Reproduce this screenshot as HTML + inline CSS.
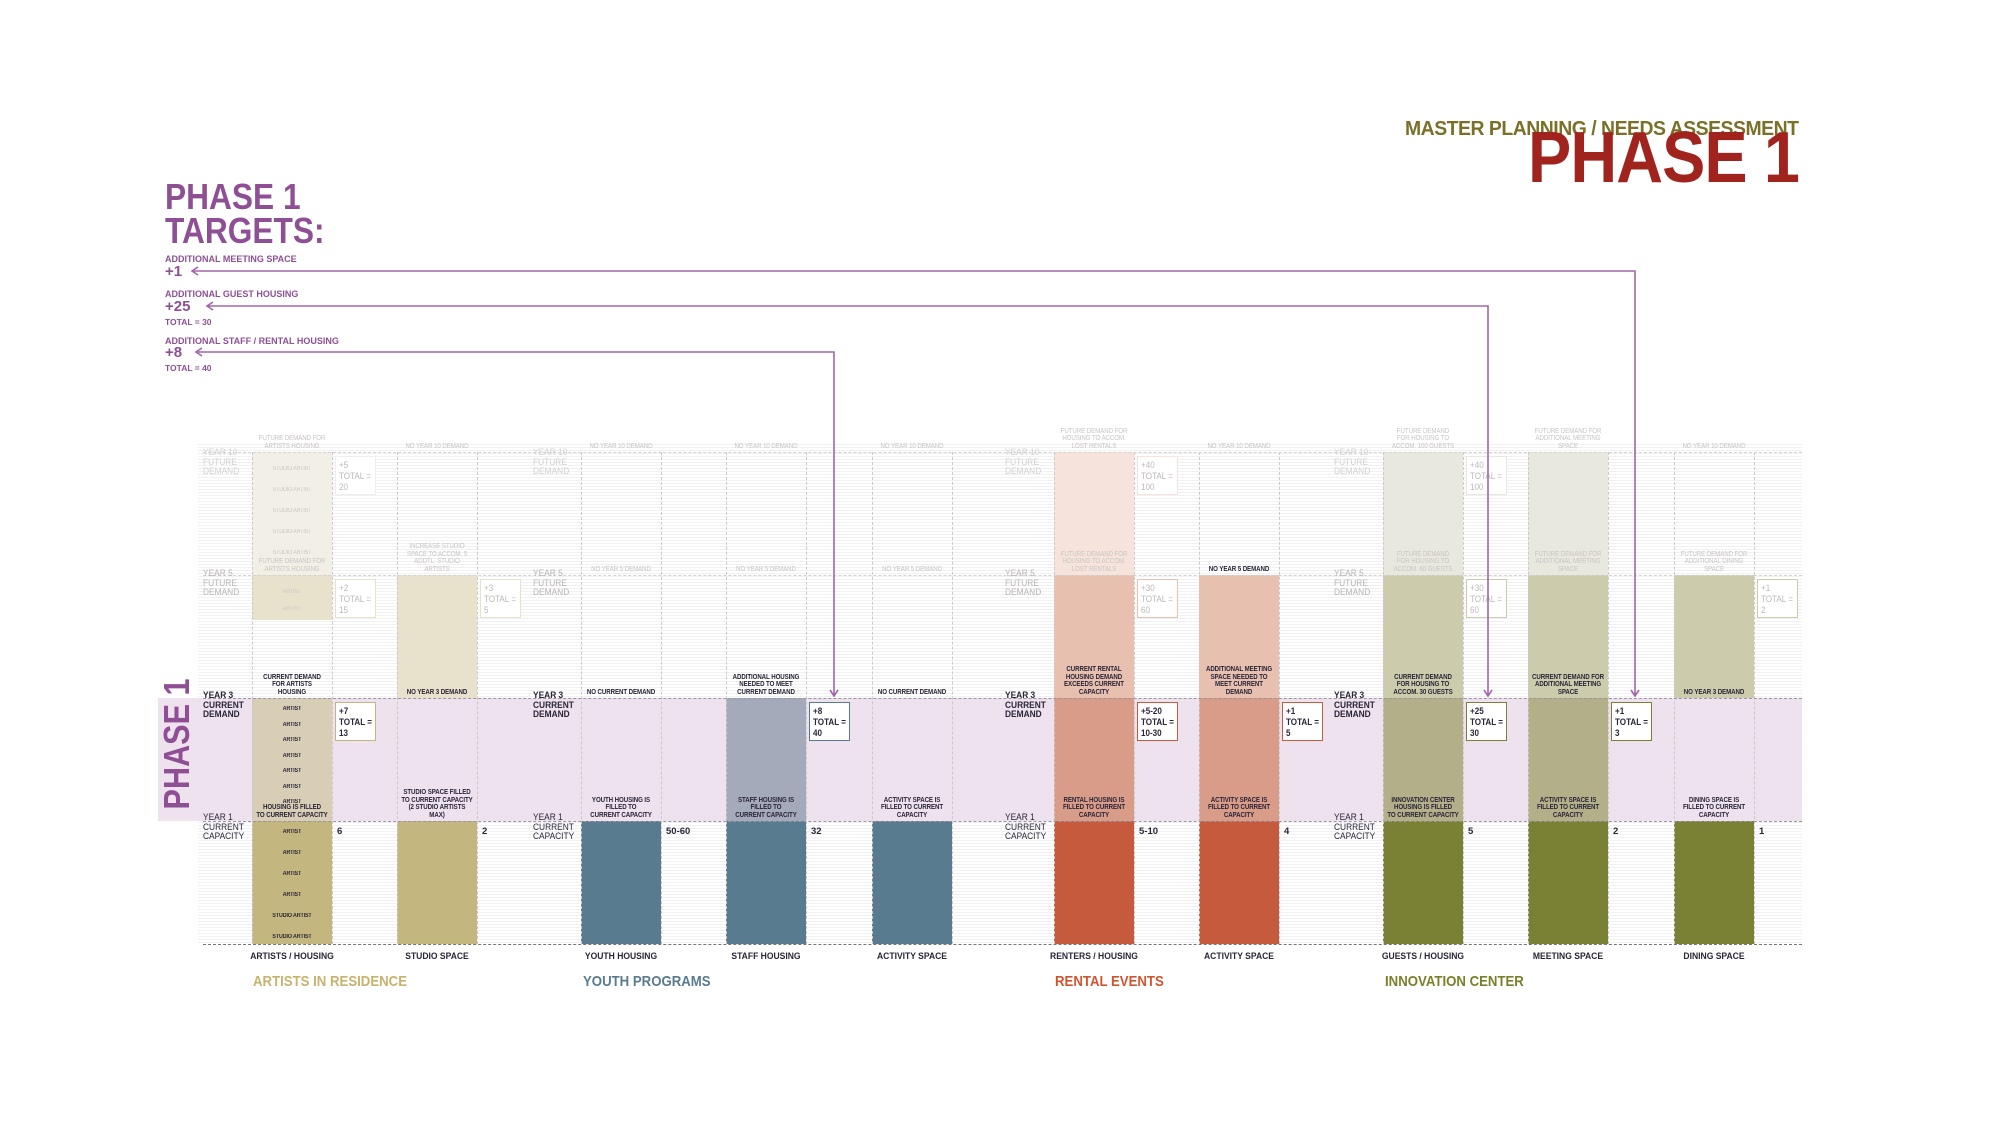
<!DOCTYPE html>
<html><head><meta charset="utf-8">
<style>
*{margin:0;padding:0;box-sizing:border-box}
body{width:2000px;height:1128px;background:#fff;position:relative;overflow:hidden;font-family:"Liberation Sans Narrow","Liberation Sans",sans-serif}
.a{position:absolute;white-space:nowrap}
.sx{transform:scaleX(.88);transform-origin:0 0}
.t{position:absolute;text-align:center;font-size:7px;line-height:7.5px;font-weight:bold;color:#2a2538;transform:scaleX(.88);letter-spacing:-0.1px}
.f{color:#c9c4c4;font-weight:normal}
.lbl{position:absolute;font-size:9.5px;line-height:9.5px;color:#2a2538;white-space:nowrap}
.box{position:absolute;width:41px;height:39px;background:#fff;border:1.5px solid;font-size:9.5px;line-height:11px;padding:3px 3px;font-weight:bold;color:#2a2538;white-space:nowrap}
.box div{transform:scaleX(.85);transform-origin:0 0}
.hl{position:absolute;height:0;border-top:1.3px dashed #9a96a0}
.vl{position:absolute;width:0;border-left:1px dashed #cfc8c8}
</style></head><body>
<div class="a" style="left:1405px;top:118px;font-size:20px;font-weight:bold;color:#7a7028;letter-spacing:-0.5px;transform:scaleX(.97);transform-origin:0 0">MASTER PLANNING / NEEDS ASSESSMENT</div>
<div class="a" style="left:1528px;top:122px;font-size:72px;line-height:72px;font-weight:bold;color:#a0231e;letter-spacing:-1px;transform:scaleX(.9);transform-origin:0 0">PHASE 1</div>
<div class="a" style="left:165px;top:180px;font-size:36px;line-height:34px;font-weight:bold;color:#8e4f95;transform:scaleX(.88);transform-origin:0 0">PHASE 1<br>TARGETS:</div>
<div class="a" style="left:165px;top:254px;font-size:9px;font-weight:bold;color:#8e4f95">ADDITIONAL MEETING SPACE</div>
<div class="a" style="left:165px;top:263px;font-size:15px;font-weight:bold;color:#8e4f95">+1</div>
<div class="a" style="left:165px;top:289px;font-size:9px;font-weight:bold;color:#8e4f95">ADDITIONAL GUEST HOUSING</div>
<div class="a" style="left:165px;top:298px;font-size:15px;font-weight:bold;color:#8e4f95">+25</div>
<div class="a" style="left:165px;top:317px;font-size:8.5px;font-weight:bold;color:#8e4f95">TOTAL = 30</div>
<div class="a" style="left:165px;top:336px;font-size:9px;font-weight:bold;color:#8e4f95">ADDITIONAL STAFF  / RENTAL HOUSING</div>
<div class="a" style="left:165px;top:344px;font-size:15px;font-weight:bold;color:#8e4f95">+8</div>
<div class="a" style="left:165px;top:363px;font-size:8.5px;font-weight:bold;color:#8e4f95">TOTAL = 40</div>
<div id="chart"></div>
<svg class="a" style="left:0;top:0;z-index:5" width="2000" height="1128">
<g fill="none" stroke="#a067a8" stroke-width="1.6">
<polyline points="192,271 1635,271 1635,696"/>
<polyline points="207,306 1488,306 1488,696"/>
<polyline points="196,352 834,352 834,696"/>
<polyline points="198,267 192,271 198,275"/>
<polyline points="213,302 207,306 213,310"/>
<polyline points="202,348 196,352 202,356"/>
<polyline points="1631,690 1635,696 1639,690"/>
<polyline points="1484,690 1488,696 1492,690"/>
<polyline points="830,690 834,696 838,690"/>
</g></svg>
<script>
var C=document.getElementById('chart'),h='';
var Y10=452,Y5=575,Y3=698,Y1=821,B=944,W=80,L=203,R=1802;
function d(s){h+=s}
d('<div class="a" style="left:'+(L-5)+'px;top:'+(Y10-10)+'px;width:'+(R-L+5)+'px;height:'+(B-Y10+10)+'px;background:repeating-linear-gradient(#fff 0,#fff 2px,#f1f0f2 2px,#f1f0f2 3px)"></div>');
d('<div class="a" style="left:158px;top:'+Y3+'px;width:'+(R-158)+'px;height:'+(Y1-Y3)+'px;background:#ebdfeb;opacity:.9"></div>');
d('<div class="a" style="left:160px;top:'+Y1+'px;height:34px;transform:rotate(-90deg);transform-origin:0 0;font-size:36px;line-height:34px;font-weight:bold;color:#8e4f95;text-align:center;white-space:nowrap;width:123px"><span style="display:inline-block;transform:scaleX(.85)">PHASE 1</span></div>');
var X=[252,397,581,726,872,1054,1199,1383,1528,1674];
var P={k1:'#c3b67e',k3:'#d8cdb5',k5:'#e8e2cd',k10:'#f2efe6',b1:'#587b8f',b3:'#a4aab9',r1:'#c65a3c',r3:'#d99c89',r5:'#e7c0b0',r10:'#f6e4dc',g1:'#7a8034',g3:'#b3af89',g5:'#cccbab',g10:'#e9e8de'};
var seg=[
[[Y10,Y5,P.k10],[Y5,620,P.k5],[Y3,Y1,P.k3],[Y1,B,P.k1]],
[[Y5,Y3,P.k5],[Y1,B,P.k1]],
[[Y1,B,P.b1]],
[[Y3,Y1,P.b3],[Y1,B,P.b1]],
[[Y1,B,P.b1]],
[[Y10,Y5,P.r10],[Y5,Y3,P.r5],[Y3,Y1,P.r3],[Y1,B,P.r1]],
[[Y5,Y3,P.r5],[Y3,Y1,P.r3],[Y1,B,P.r1]],
[[Y10,Y5,P.g10],[Y5,Y3,P.g5],[Y3,Y1,P.g3],[Y1,B,P.g1]],
[[Y10,Y5,P.g10],[Y5,Y3,P.g5],[Y3,Y1,P.g3],[Y1,B,P.g1]],
[[Y5,Y3,P.g5],[Y1,B,P.g1]]];
X.forEach(function(x,i){seg[i].forEach(function(s){d('<div class="a" style="left:'+x+'px;top:'+s[0]+'px;width:'+W+'px;height:'+(s[1]-s[0])+'px;background:'+s[2]+'"></div>')});
 d('<div class="vl" style="left:'+x+'px;top:'+Y10+'px;height:'+(B-Y10)+'px"></div><div class="vl" style="left:'+(x+W)+'px;top:'+Y10+'px;height:'+(B-Y10)+'px"></div>');});
[Y10,Y5].forEach(function(y){d('<div class="hl" style="left:'+L+'px;top:'+y+'px;width:'+(R-L)+'px;border-top-color:#d6d2d2"></div>')});
[Y3,Y1].forEach(function(y){d('<div class="hl" style="left:'+L+'px;top:'+y+'px;width:'+(R-L)+'px"></div>')});
d('<div class="hl" style="left:'+L+'px;top:'+B+'px;width:'+(R-L)+'px;border-top-color:#777"></div>');
var tl=[
[0,Y10,'FUTURE DEMAND FOR<br>ARTISTS HOUSING',1],[0,Y5,'FUTURE DEMAND FOR<br>ARTISTS HOUSING',1],[0,Y3,'CURRENT DEMAND<br>FOR ARTISTS<br>HOUSING',0],[0,Y1,'HOUSING IS FILLED<br>TO CURRENT CAPACITY',0],
[1,Y10,'NO YEAR 10 DEMAND',1],[1,Y5,'INCREASE STUDIO<br>SPACE TO ACCOM. 5<br>ADDTL. STUDIO<br>ARTISTS',1],[1,Y3,'NO YEAR 3 DEMAND',0],[1,Y1,'STUDIO SPACE FILLED<br>TO CURRENT CAPACITY<br>(2 STUDIO ARTISTS<br>MAX)',0],
[2,Y10,'NO YEAR 10 DEMAND',1],[2,Y5,'NO YEAR 5 DEMAND',1],[2,Y3,'NO CURRENT DEMAND',0],[2,Y1,'YOUTH HOUSING IS<br>FILLED TO<br>CURRENT CAPACITY',0],
[3,Y10,'NO YEAR 10 DEMAND',1],[3,Y5,'NO YEAR 5 DEMAND',1],[3,Y3,'ADDITIONAL HOUSING<br>NEEDED TO MEET<br>CURRENT DEMAND',0],[3,Y1,'STAFF HOUSING IS<br>FILLED TO<br>CURRENT CAPACITY',0],
[4,Y10,'NO YEAR 10 DEMAND',1],[4,Y5,'NO YEAR 5 DEMAND',1],[4,Y3,'NO CURRENT DEMAND',0],[4,Y1,'ACTIVITY SPACE IS<br>FILLED TO CURRENT<br>CAPACITY',0],
[5,Y10,'FUTURE DEMAND FOR<br>HOUSING TO ACCOM.<br>LOST RENTALS',1],[5,Y5,'FUTURE DEMAND FOR<br>HOUSING TO ACCOM.<br>LOST RENTALS',1],[5,Y3,'CURRENT RENTAL<br>HOUSING DEMAND<br>EXCEEDS CURRENT<br>CAPACITY',0],[5,Y1,'RENTAL HOUSING IS<br>FILLED TO CURRENT<br>CAPACITY',0],
[6,Y10,'NO YEAR 10 DEMAND',1],[6,Y5,'NO YEAR 5 DEMAND',0],[6,Y3,'ADDITIONAL MEETING<br>SPACE NEEDED TO<br>MEET CURRENT<br>DEMAND',0],[6,Y1,'ACTIVITY SPACE IS<br>FILLED TO CURRENT<br>CAPACITY',0],
[7,Y10,'FUTURE DEMAND<br>FOR HOUSING TO<br>ACCOM. 100 GUESTS',1],[7,Y5,'FUTURE DEMAND<br>FOR HOUSING TO<br>ACCOM. 60 GUESTS',1],[7,Y3,'CURRENT DEMAND<br>FOR HOUSING TO<br>ACCOM. 30 GUESTS',0],[7,Y1,'INNOVATION CENTER<br>HOUSING IS FILLED<br>TO CURRENT CAPACITY',0],
[8,Y10,'FUTURE DEMAND FOR<br>ADDITIONAL MEETING<br>SPACE',1],[8,Y5,'FUTURE DEMAND FOR<br>ADDITIONAL MEETING<br>SPACE',1],[8,Y3,'CURRENT DEMAND FOR<br>ADDITIONAL MEETING<br>SPACE',0],[8,Y1,'ACTIVITY SPACE IS<br>FILLED TO CURRENT<br>CAPACITY',0],
[9,Y10,'NO YEAR 10 DEMAND',1],[9,Y5,'FUTURE DEMAND FOR<br>ADDITIONAL DINING<br>SPACE',1],[9,Y3,'NO YEAR 3 DEMAND',0],[9,Y1,'DINING SPACE IS<br>FILLED TO CURRENT<br>CAPACITY',0]];
tl.forEach(function(a){var n=a[2].split('<br>').length;d('<div class="t'+(a[3]?' f':'')+'" style="left:'+(X[a[0]]-10)+'px;width:'+(W+20)+'px;top:'+(a[1]-2-n*7.5)+'px">'+a[2]+'</div>')});
function inner(x,y,txt,f){d('<div class="t'+(f?' f':'')+'" style="left:'+x+'px;width:'+W+'px;top:'+y+'px;font-size:6px">'+txt+'</div>')}
for(var k=0;k<5;k++)inner(252,466+k*21,'STUDIO ARTIST',1);
inner(252,589,'ARTIST',1);inner(252,606,'ARTIST',1);
for(k=0;k<7;k++)inner(252,706+k*15.5,'ARTIST',0);
['ARTIST','ARTIST','ARTIST','ARTIST','STUDIO ARTIST','STUDIO ARTIST'].forEach(function(s,k){inner(252,829+k*21,s,0)});
[203,533,1005,1334].forEach(function(x){
d('<div class="lbl sx" style="left:'+x+'px;top:'+(Y10-4)+'px;color:#d4d0d0">YEAR 10<br>FUTURE<br>DEMAND</div>');
d('<div class="lbl sx" style="left:'+x+'px;top:'+(Y5-6)+'px;color:#b9b4b6">YEAR 5<br>FUTURE<br>DEMAND</div>');
d('<div class="lbl sx" style="left:'+x+'px;top:'+(Y3-7)+'px;font-weight:bold">YEAR 3<br>CURRENT<br>DEMAND</div>');
d('<div class="lbl sx" style="left:'+x+'px;top:'+(Y1-8)+'px">YEAR 1<br>CURRENT<br>CAPACITY</div>');});
var bx=[[0,Y10,'+5<br>TOTAL =<br>20','#eee',1],[0,Y5,'+2<br>TOTAL =<br>15','#e8e2cd',1],[0,Y3,'+7<br>TOTAL =<br>13','#c3b67e',0],
[1,Y5,'+3<br>TOTAL =<br>5','#e8e2cd',1],[3,Y3,'+8<br>TOTAL =<br>40','#587b8f',0],
[5,Y10,'+40<br>TOTAL =<br>100','#f6e4dc',1],[5,Y5,'+30<br>TOTAL =<br>60','#e7c0b0',1],[5,Y3,'+5-20<br>TOTAL =<br>10-30','#c65a3c',0],
[6,Y3,'+1<br>TOTAL =<br>5','#c65a3c',0],
[7,Y10,'+40<br>TOTAL =<br>100','#e9e8de',1],[7,Y5,'+30<br>TOTAL =<br>60','#cccbab',1],[7,Y3,'+25<br>TOTAL =<br>30','#7a8034',0],
[8,Y3,'+1<br>TOTAL =<br>3','#7a8034',0],[9,Y5,'+1<br>TOTAL =<br>2','#cccbab',1]];
bx.forEach(function(b){d('<div class="box" style="left:'+(X[b[0]]+W+3)+'px;top:'+(b[1]+4)+'px;border-color:'+b[3]+';'+(b[4]?'color:#bdb8b8;font-weight:normal':'')+'"><div>'+b[2]+'</div></div>')});
['6','2','50-60','32','','5-10','4','5','2','1'].forEach(function(s,i){d('<div class="lbl" style="left:'+(X[i]+W+5)+'px;top:'+(Y1+6)+'px;font-weight:bold">'+s+'</div>')});
['ARTISTS / HOUSING','STUDIO SPACE','YOUTH HOUSING','STAFF HOUSING','ACTIVITY SPACE','RENTERS / HOUSING','ACTIVITY SPACE','GUESTS / HOUSING','MEETING SPACE','DINING SPACE'].forEach(function(s,i){d('<div class="lbl" style="left:'+(X[i]-30)+'px;width:'+(W+60)+'px;text-align:center;top:952px;font-weight:bold;transform:scaleX(.9)">'+s+'</div>')});
[[253,'ARTISTS IN RESIDENCE','#c7b36d'],[583,'YOUTH PROGRAMS','#587b8f'],[1055,'RENTAL EVENTS','#d0552e'],[1385,'INNOVATION CENTER','#7a7f2a']].forEach(function(g){d('<div class="a sx" style="left:'+g[0]+'px;top:973px;font-size:15px;font-weight:bold;color:'+g[2]+'">'+g[1]+'</div>')});
C.innerHTML=h;
</script>
</body></html>
